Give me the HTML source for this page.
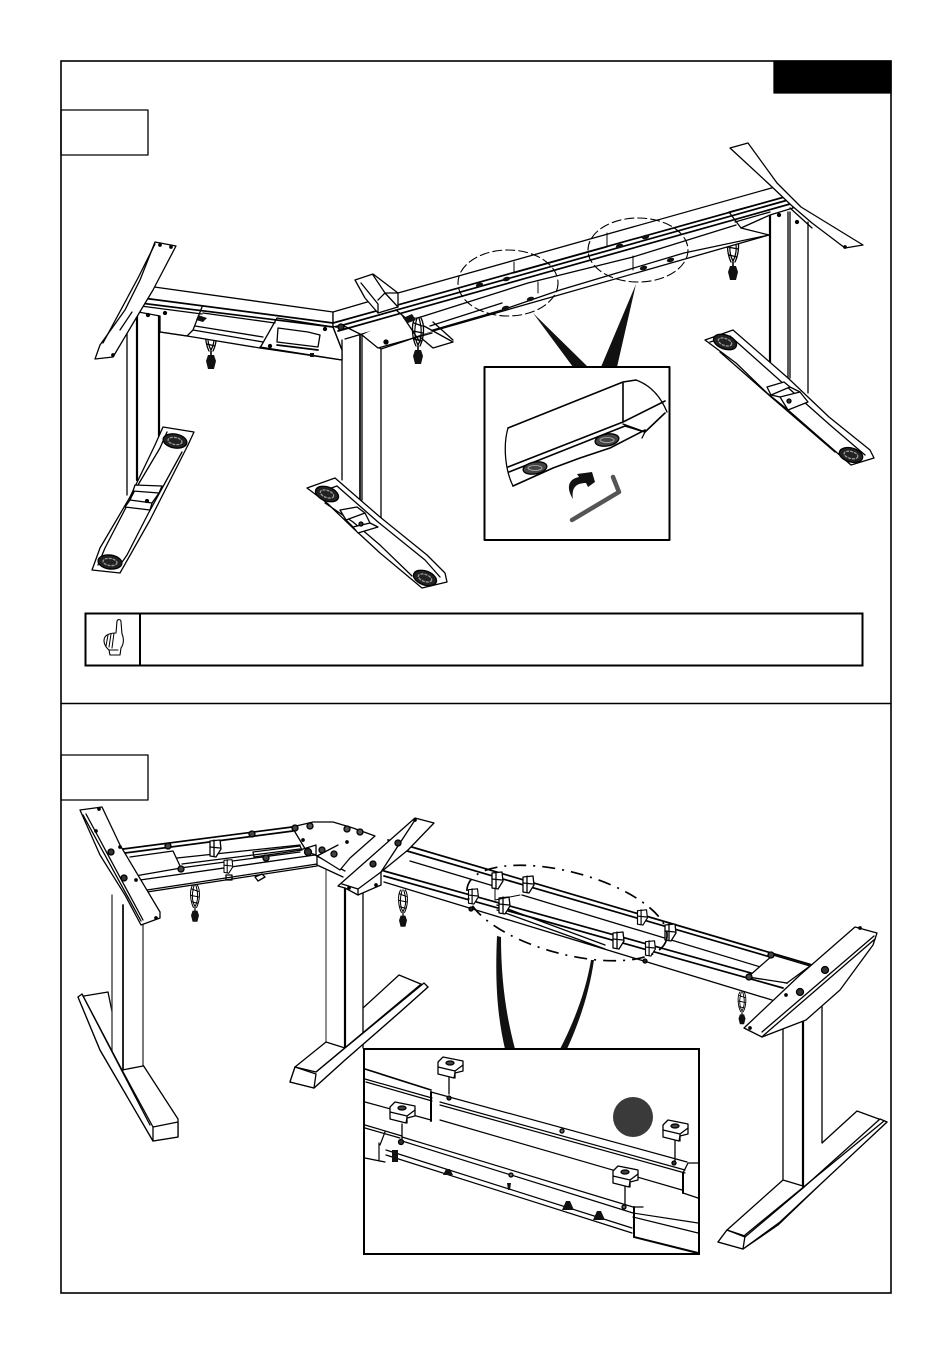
<!DOCTYPE html>
<html><head><meta charset="utf-8"><title>Assembly diagram</title>
<style>html,body{margin:0;padding:0;background:#fff}svg{display:block}
.w{fill:#fff}.n{fill:#fff;stroke:none}.t{stroke-width:2.2}.r{stroke-width:1.7}.h{stroke-width:.8}.b{fill:#111;stroke:none}</style></head>
<body>
<svg xmlns="http://www.w3.org/2000/svg" width="950" height="1354" viewBox="0 0 950 1354" fill="none" stroke="#000" stroke-width="1.3" stroke-linejoin="round" stroke-linecap="round">
<defs>
<g id="cord"><path d="M-3 0C-7 6-6 20-2 28M3 0C7 7 6 20 2 28M-1 0C-4 10-4 20 0 27M1 0C4 10 4 20 0 27M-4 5 4 8M-5 13 5 15M-4 21 4 23" stroke-width="1.300"/><path d="M0 28V32" stroke-width="1.600"/><path class="b" d="M-3 32H3L5 38 3 46H-3L-5 38Z"/></g>
<g id="pad"><ellipse rx="12" ry="7" fill="#222" stroke="#000"/><ellipse rx="7" ry="3.500" fill="none" stroke="#999" stroke-dasharray="2 2"/></g>
<g id="clip"><path class="w" d="M-12 -6 -7 -11 13 -7 13 3 5 5 4 10 -12 6Z"/><path d="M-12 -1 5 3 13 -3M5 3V10"/><ellipse cx="0" cy="-5" rx="4" ry="2" fill="#444"/></g>
<g id="bracket"><path class="w" d="M-5 -7 5 -8 6 1 1 9 -5 8Z"/><path d="M-5 -1 5 0M-1 -8V8"/></g>
</defs>

<!-- page frame -->
<rect x="61" y="61" width="830" height="1232" stroke-width="1.600" stroke-linejoin="miter"/>
<line x1="61" y1="703.500" x2="891" y2="703.500" stroke-width="1.400"/>
<rect x="774" y="61" width="117" height="32" fill="#000"/>
<rect x="61" y="110" width="87" height="45"/>
<rect x="61" y="755" width="87" height="45"/>

<!-- ================ UPPER TABLE ================ -->
<!-- left leg -->
<path d="M127 310V495"/><path class="t" d="M137 312V480M159 312V436"/>
<!-- middle leg -->
<path d="M342 340V480M381 345V518"/><path class="r" d="M360 335V500"/><path d="M362 335V500"/>
<!-- right leg -->
<path class="t" d="M770 214V362"/><path d="M808 222V393M788 212V378M790 212V378"/>

<!-- left foot -->
<path class="w" d="M163 427 194 432 188 445 150 520 120 573 92 570 100 548 130 497 155 445Z"/>
<path d="M167 432 160 448 135 490 105 548 98 565M182 452 160 492 148 514 127 555 118 568"/>
<path class="w" d="M135 485 162 486 159 493 133 491Z"/><path class="w" d="M130 500 152 503 150 510 125 507Z"/><path d="M133 491 130 500M159 493 152 503"/>
<circle cx="147" cy="501" r="1.500" fill="#000"/>
<use href="#pad" transform="translate(175 441) rotate(10)"/><use href="#pad" transform="translate(110 562) rotate(8)"/>
<!-- centre foot -->
<path class="w" d="M307 488 335 478 380 517 427 555 445 573 447 582 422 588 380 553 353 528 327 503Z"/>
<path d="M317 493 337 486 378 522 425 560 440 577M325 503 353 522 380 545 412 576"/>
<path class="w" d="M340 510 357 507 365 513 346 520Z"/><path class="w" d="M353 527 370 523 378 527 358 533Z"/><path d="M346 520 353 527M365 513 370 523"/>
<circle cx="361" cy="524" r="2" fill="#333"/>
<use href="#pad" transform="translate(327 494) rotate(20)"/><use href="#pad" transform="translate(425 578) rotate(20)"/>
<!-- right foot -->
<path class="w" d="M705 340 733 330 788 378 829 417 870 450 874 458 851 465 788 410 767 393 736 363Z"/>
<path d="M710 342 730 336 785 385 830 425 865 455M720 352 770 396 835 452"/>
<path class="w" d="M767 387 784 382 790 387 771 395Z"/><path class="w" d="M780 397 800 392 808 402 788 410Z"/><path d="M771 395 780 397M790 387 800 392"/>
<circle cx="789" cy="401" r="2" fill="#333"/>
<use href="#pad" transform="translate(725 342) rotate(20)"/><use href="#pad" transform="translate(851 455) rotate(15)"/>

<!-- cords -->
<use href="#cord" transform="translate(211 323)"/><use href="#cord" transform="translate(733 234)"/>

<!-- left beam -->
<path class="w" d="M140 285 333 312 333 327 342 350 342 360 260 348 187 336 160 332 160 316 133 311 132 300Z"/>
<path class="r" d="M135 297 333 323M132 302 333 327"/>
<path d="M133 305 202 314M160 332 187 336 193 330 202 307M193 330 263 342M195 326 263 337M203 313 275 323M260 347 342 360M260 348 277 318 333 327 342 350"/>
<path class="w" d="M277 342 278 328 308 332 320 335 318 347Z"/><path class="r" d="M277 345 318 350"/>
<circle cx="270" cy="346" r="1.500" fill="#000"/><circle cx="325" cy="329" r="1.500" fill="#000"/><circle cx="148" cy="315" r="1.500" fill="#000"/><circle cx="165" cy="313" r="1.500" fill="#000"/>
<path class="b" d="M198 315 207 318 203 322 196 320ZM310 353H314V357H310Z"/>
<!-- right beam -->
<path class="w" d="M333 312 398 293 775 187 790 197 793 208 770 215 741 228 769 235 426 333 408 340 381 349 362 335 342 325 333 327Z"/>
<path class="r" d="M333 323 788 196M336 327 788 200M338 331 790 204"/>
<path d="M345 339 424 316 528 283 633 257 736 225M426 332 502 310 560 290 684 253 769 235M430 326 502 303"/>
<path d="M514 262V273M538 282V293M607 233V247M633 256V270M514 273 607 247" stroke-width="1"/>
<path class="b" d="M476 285a3.500 2 -15 1 0 7 0a3.500 2 -15 1 0 -7 0M503 279a3.500 2 -15 1 0 7 0a3.500 2 -15 1 0 -7 0M502 308a3.500 2 -15 1 0 7 0a3.500 2 -15 1 0 -7 0M527 299a3.500 2 -15 1 0 7 0a3.500 2 -15 1 0 -7 0M616 246a3.500 2 -15 1 0 7 0a3.500 2 -15 1 0 -7 0M642 237a3.500 2 -15 1 0 7 0a3.500 2 -15 1 0 -7 0M640 268a3.500 2 -15 1 0 7 0a3.500 2 -15 1 0 -7 0M667 260a3.500 2 -15 1 0 7 0a3.500 2 -15 1 0 -7 0"/>
<path d="M729 212 770 201M729 212 741 228M735 222 770 212"/>
<!-- left top plate -->
<path class="w" d="M155 242 176 246 153 290 135 320 113 357 95 359 100 345 125 310 140 280Z"/>
<path d="M132 312 120 330M155 244 138 278 103 343"/><circle cx="160" cy="245" r="1.200" fill="#000"/><circle cx="171" cy="247" r="1.200" fill="#000"/><circle cx="113" cy="355" r="1.200" fill="#000"/>
<!-- middle top plate -->
<path class="w" d="M355 280 373 274 398 293 398 307 378 313 365 298Z"/><path d="M361 283 378 304 378 313M373 275 385 293 398 307M378 300 385 293 398 293"/>
<path class="n" d="M362 335 378 348 433 331 415 318 403 315Z"/>
<path d="M362 335 378 348 432 333M402 315 420 342M424 326 453 342 433 348 420 337M433 322 453 340M396 310 408 320"/>
<use href="#cord" transform="translate(418 318)"/>
<circle cx="386" cy="342" r="2" fill="#000"/><circle cx="341" cy="327" r="3" fill="#333"/>
<path class="b" d="M403 318 412 314 416 320 408 323Z"/>
<!-- right top plate -->
<path class="w" d="M730 148 748 143 777 183 801 207 863 245 845 248 812 223 791 205 770 185Z"/><circle cx="845" cy="247" r="1.200" fill="#000"/>
<path d="M790 208 812 228"/><circle cx="797" cy="222" r="1.500" fill="#000"/><circle cx="779" cy="215" r="1.500" fill="#000"/>

<!-- callout ellipses & wedges -->
<ellipse cx="508" cy="283" rx="50" ry="33" stroke-dasharray="9 4" stroke-width="1.100"/>
<ellipse cx="638" cy="250" rx="50" ry="32" stroke-dasharray="9 4" stroke-width="1.100"/>
<path class="b" d="M533 313 588 367H573ZM636 284 617 367H601Z"/>

<!-- inset 1 -->
<rect x="484.500" y="367" width="185" height="173" class="w" stroke-width="2"/>
<path stroke-width="1.600" d="M508 428 623 382 636 380M623 382V422M508 467 623 422M509 472 625 426M513 486 553 468 580 458 610 448 645 430M625 426 645 432 665 413M623 422 665 401"/>
<path d="M636 380C650 385 660 395 667 412M508 428C503 445 505 470 513 486M623 424 645 432 642 438"/>
<ellipse cx="535" cy="468" rx="12" ry="6" transform="rotate(-10 535 468)" fill="#444"/><ellipse cx="607" cy="440" rx="12" ry="6" transform="rotate(-10 607 440)" fill="#444"/>
<ellipse cx="535" cy="468" rx="7" ry="2.500" fill="none" stroke="#bbb" stroke-width=".8"/><ellipse cx="607" cy="440" rx="7" ry="2.500" fill="none" stroke="#bbb" stroke-width=".8"/>
<path class="b" d="M573 499C566 488 568 479 579 477L577 474 592 472 595 482 588 487 586 483C577 483 571 487 573 499Z"/>
<path d="M613 477 619 492 572 520" stroke="#555" stroke-width="4.500"/>

<!-- note -->
<rect x="85.500" y="613.500" width="777" height="52" stroke-width="2" stroke-linejoin="miter"/>
<line x1="140" y1="614" x2="140" y2="665" stroke-width="2"/>
<path stroke-width="1.100" class="w" d="M117 621C118 619 121 619 121 622L122 634C124 638 124 644 121 648L120 655H110L109 650C104 646 103 640 105 637 107 634 111 633 116 633Z"/>
<path d="M108 635 106 646M111 634 109 647M114 633 112 648M109 650 118 650" stroke-width="1"/>

<!-- ================ LOWER TABLE ================ -->
<!-- left foot -->
<path class="w" d="M78 997 108 992 122 1060 143 1065 178 1119 178 1137 153 1141 100 1050Z"/>
<path class="n" d="M112 895H143.500V1066L122 1070 112 1055Z"/>
<path d="M112 895V1055M143 900V1066" stroke="#333"/><path class="r" d="M123 905V1070"/><path d="M122 1070 143 1066"/>
<path class="w" d="M78 997 82 994 122 1070 153 1127 178 1122 178 1137 153 1141 100 1050Z"/>
<path d="M153 1127V1141M82 994 150 1125"/>
<!-- mid foot -->
<path class="w" d="M399 975 428 987 400 1012 345 1060 314 1088 290 1082 295 1067 326 1042 363 1008Z"/>
<path class="n" d="M326 870H363V1050L345 1048 326 1042Z"/>
<path d="M326 870V1042" stroke="#555"/><path d="M363 885V1048"/><path class="t" d="M345 885V1048"/><path d="M326 1042 345 1048"/>
<path class="w" d="M345 1048 424 983 428 987 400 1012 345 1060 314 1088 290 1082 295 1067 316 1072Z"/>
<path d="M295 1067 316 1074 314 1088M316 1072 420 985"/>
<!-- right foot -->
<path class="w" d="M857 1111 887 1122 830 1175 778 1225 743 1249 718 1242 727 1230 783 1180 822 1143Z"/>
<path class="n" d="M783 1000H822V1185L803 1186 783 1180Z"/>
<path d="M783 1000V1180M822 1005V1143M783 1180 803 1186"/><path class="t" d="M803 1005V1186"/>
<path class="w" d="M803 1188 880 1119 887 1122 840 1166 780 1222 743 1249 718 1242 727 1230 745 1237Z"/>
<path d="M727 1230 745 1236 743 1249M745 1235 884 1121"/>

<!-- cords -->
<use href="#cord" transform="translate(195 885) scale(.8)"/><use href="#cord" transform="translate(403 890) scale(.8)"/><use href="#cord" transform="translate(742 992) scale(.7)"/>

<!-- left beam -->
<path class="n" d="M123 849 292 827 313 822 333 822 353 828 440 855 812 965 772 1000 497 917 384 882 343 877 317 866 147 892 125 870Z"/>
<path class="r" d="M123 849 292 827M125 853 293 831"/>
<path d="M130 857 173 851 181 868 135 876M177 858 300 845M180 868 300 852M182 864 300 849M140 880 315 855M147 890 317 864M147 892 317 866 317 855M317 865 343 877M315 855 345 871"/>
<path d="M253 852 300 846 302 850 254 857Z"/>
<path d="M255 877 262 874 265 877 258 881ZM226 875H232V880H226Z"/>
<!-- right beam lines -->
<path class="r" d="M388 840 812 965M390 846 808 968M384 871 787 983M384 876 783 988"/>
<path d="M410 861 497 887M522 895 787 975M384 882 772 1000M497 905 605 945M497 910 605 949"/>
<path class="w" d="M748 977 773 955 810 966 787 983Z"/>
<!-- corner plate -->
<path class="w" d="M292 827 313 822 333 822 353 828 375 836 350 858 340 870 316 855 307 852Z"/>
<path d="M316 855 316 845 300 850M338 845 317 856"/>
<circle cx="295" cy="828" r="3" fill="#444"/><circle cx="310" cy="826" r="3" fill="#555"/><circle cx="347" cy="829" r="3" fill="#555"/><circle cx="360" cy="832" r="3" fill="#555"/><circle cx="308" cy="852" r="3.500" fill="#333"/><circle cx="322" cy="850" r="3" fill="#444"/><circle cx="334" cy="854" r="3" fill="#444"/><circle cx="303" cy="840" r="1.200" fill="#000"/><circle cx="347" cy="842" r="1.200" fill="#000"/>
<circle cx="168" cy="846" r="3" fill="#444"/><circle cx="252" cy="834" r="3" fill="#444"/><circle cx="181" cy="869" r="3" fill="#444"/><circle cx="266" cy="858" r="3" fill="#444"/>
<use href="#bracket" transform="translate(215 848)"/><use href="#bracket" transform="translate(228 866) scale(.8)"/>
<!-- left plate -->
<path class="w" d="M80 810 102 807 120 845 160 912 160 918 141 925 125 895 100 855Z"/>
<path d="M83 815 141 921M86 814 143 920"/>
<circle cx="111" cy="852" r="3" fill="#333"/><circle cx="124" cy="878" r="3" fill="#333"/><circle cx="96" cy="831" r="1.200" fill="#000"/><circle cx="120" cy="847" r="1.200" fill="#000"/><circle cx="136" cy="880" r="1.200" fill="#000"/><circle cx="156" cy="918" r="1.200" fill="#000"/><circle cx="99" cy="809" r="1.200" fill="#000"/>
<!-- middle plate -->
<path class="w" d="M338 886 415 818 434 823 408 850 381 872 381 885 358 895 345 888Z"/><path d="M342 884 358 889 381 872 415 820M358 889V895"/>
<circle cx="398" cy="843" r="3" fill="#333"/><circle cx="373" cy="864" r="3" fill="#333"/><circle cx="415" cy="820" r="1.200" fill="#000"/><circle cx="376" cy="885" r="1.200" fill="#000"/><circle cx="349" cy="888" r="1.200" fill="#000"/>
<!-- right plate -->
<path class="w" d="M855 927 877 933 873 945 840 990 806 1020 762 1037 744 1028 800 975Z"/>
<path d="M874 936 762 1032M875 939 764 1035 762 1037"/>
<circle cx="825" cy="970" r="3.500" fill="#333"/><circle cx="800" cy="992" r="3.500" fill="#333"/><circle cx="786" cy="995" r="1.200" fill="#000"/><circle cx="860" cy="928" r="1.200" fill="#000"/><circle cx="750" cy="1028" r="1.200" fill="#000"/>
<!-- brackets on right beam -->
<use href="#bracket" transform="translate(497 880)"/><use href="#bracket" transform="translate(528 884)"/><use href="#bracket" transform="translate(504 905)"/><use href="#bracket" transform="translate(473 896) scale(.9)"/><use href="#bracket" transform="translate(642 917) scale(.9)"/><use href="#bracket" transform="translate(670 932)"/><use href="#bracket" transform="translate(618 940)"/><use href="#bracket" transform="translate(650 948) scale(.9)"/>
<path d="M495 888V900L520 895" stroke-width="1"/>
<circle cx="771" cy="955" r="3" fill="#444"/><circle cx="749" cy="977" r="3" fill="#444"/><circle cx="645" cy="961" r="2" fill="#222"/><circle cx="471" cy="909" r="2" fill="#222"/>

<!-- dash-dot ellipse & curved wedges -->
<ellipse cx="567" cy="913" rx="103" ry="41" transform="rotate(15 567 913)" stroke-width="1.700" stroke-dasharray="13 7 2 7" stroke-linecap="butt"/>
<path class="b" d="M497 936 501 937C501 980 506 1015 515 1049H505C497 1015 495 980 497 936ZM591 960 594 960C589 995 578 1025 567 1049H560C575 1020 586 990 591 960Z"/>

<!-- inset 2 -->
<rect x="364" y="1049" width="335" height="205" class="w" stroke-width="2" stroke-linejoin="miter"/>
<g>
<path class="r" d="M365 1069 431 1090"/>
<path d="M431 1092 687 1162M365 1079 432 1098M366 1082 432 1101M440 1102 685 1170M440 1105 685 1173M365 1102 431 1120M440 1120 682 1190M365 1125 402 1136M365 1128 400 1138M402 1137 633 1207M402 1141 633 1213M385 1132 380 1145M379 1143V1160M386 1150 632 1228M386 1155 632 1233M633 1213 698 1223M633 1217 698 1233" stroke-width="1.200"/>
<path stroke-width="2" d="M431 1092V1121M634 1207V1237M683 1173V1193M634 1237 698 1253"/>
<path d="M683 1173 688 1163 698 1163M683 1193 698 1198M634 1207 643 1207M365 1158 385 1162"/>
<path d="M402 1124V1140M449 1077V1094M625 1185V1205M675 1140V1162"/>
<circle cx="449" cy="1098" r="2" fill="#333"/><circle cx="401" cy="1142" r="2.500" fill="#333"/><circle cx="624" cy="1207" r="2" fill="#666"/><circle cx="674" cy="1163" r="2" fill="#333"/><circle cx="562" cy="1131" r="2" fill="#666"/><circle cx="511" cy="1175" r="2" fill="#666"/>
<use href="#clip" transform="translate(450 1068)"/><use href="#clip" transform="translate(402 1113)"/><use href="#clip" transform="translate(625 1177)"/><use href="#clip" transform="translate(675 1131)"/>
<path class="b" d="M446 1169H450L453 1175H443ZM566 1201 570 1201 574 1210H562ZM597 1211 601 1211 605 1220H593ZM507 1183 511 1183 510 1190H508ZM392 1150H398V1162H392Z"/>
</g>
<circle cx="633" cy="1117" r="20" fill="#3a3a3a" stroke="none"/>
</svg>
</body></html>
